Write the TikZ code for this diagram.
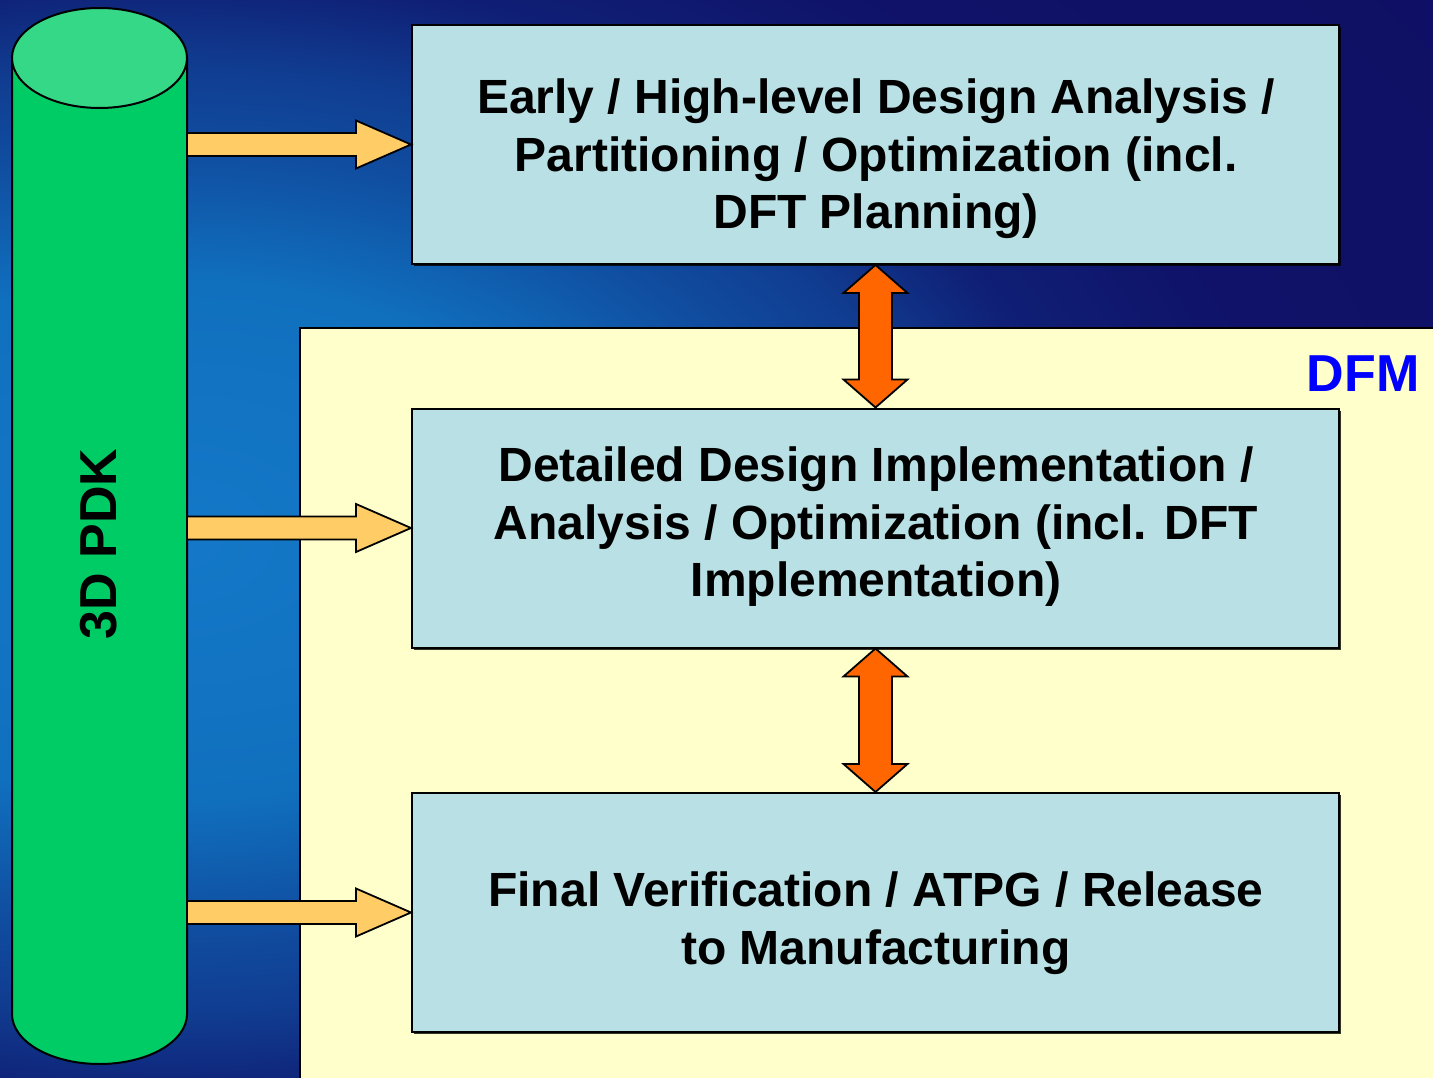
\documentclass[tikz,border=0pt]{standalone}
\usepackage{fontspec}
\setmainfont{Liberation Sans}
\usetikzlibrary{calc,shadows}
\definecolor{bgA}{HTML}{1478C8}
\definecolor{bgB}{HTML}{1070BE}
\definecolor{bgC}{HTML}{104DA0}
\definecolor{bgD}{HTML}{103C90}
\definecolor{bgE}{HTML}{0F1F75}
\definecolor{bgF}{HTML}{0F1268}
\definecolor{bgG}{HTML}{0E0E60}
\definecolor{cream}{HTML}{FFFFCC}
\definecolor{boxfill}{HTML}{B9E0E4}
\definecolor{pdkgreen}{HTML}{00CC66}
\definecolor{pdktop}{HTML}{34D886}
\definecolor{yarrowc}{HTML}{FFCC66}
\definecolor{oarrowc}{HTML}{FF6600}
\definecolor{dfmblue}{HTML}{0000FF}
\pgfdeclareradialshading{bgsh}{\pgfpoint{0bp}{0bp}}{color(0bp)=(bgA); color(5bp)=(bgB); color(7.5bp)=(bgC); color(9.15bp)=(bgD); color(10.85bp)=(bgE); color(13.35bp)=(bgF); color(25bp)=(bgG); color(50bp)=(bgG)}
\tikzset{
  stagebox/.style={draw=black, line width=2pt, fill=boxfill, minimum width=927pt, minimum height=239pt, inner sep=0pt,
    drop shadow={shadow xshift=2pt, shadow yshift=-2pt, fill=black, opacity=0.8}},
  stagetext/.style={align=center, font=\fontsize{48}{57.5}\selectfont\bfseries, inner sep=0pt},
  yarrow/.style={draw=black, line width=1.8pt, fill=yarrowc, line join=miter},
  oarrow/.style={draw=black, line width=1.8pt, fill=oarrowc, line join=miter},
}
\newcommand{\blockarrow}[2]{\path[yarrow] let \p1=(#1), \p2=(#2) in
  (\x1,\y1+11.5pt) -- (\x2-55pt,\y1+11.5pt) -- (\x2-55pt,\y1+24pt) -- (\x2,\y1) --
  (\x2-55pt,\y1-24pt) -- (\x2-55pt,\y1-11.5pt) -- (\x1,\y1-11.5pt) -- cycle;}
\newcommand{\dblarrow}[2]{\path[oarrow] let \p1=(#1), \p2=(#2) in
  (\x1,\y1) -- (\x1+32pt,\y1-28pt) -- (\x1+16.5pt,\y1-28pt) -- (\x1+16.5pt,\y2+28pt) --
  (\x1+32pt,\y2+28pt) -- (\x1,\y2) -- (\x1-32pt,\y2+28pt) -- (\x1-16.5pt,\y2+28pt) --
  (\x1-16.5pt,\y1-28pt) -- (\x1-32pt,\y1-28pt) -- cycle;}
\begin{document}
\begin{tikzpicture}[x=1pt,y=-1pt]
\useasboundingbox (0,0) rectangle (1433,1078);
% background
\begin{scope}
  \clip (0,0) rectangle (1433,1078);
  \fill[bgG] (0,0) rectangle (1433,1078);
  \shade[shading=bgsh] (170,540) ellipse[x radius=2100, y radius=1300];
\end{scope}
% DFM region
\draw[line width=2.5pt, fill=cream] (300,328) rectangle (1440,1085);
\node[anchor=base, font=\fontsize{52}{60}\selectfont\bfseries, text=dfmblue, inner sep=0pt] (dfm) at (1363,391) {DFM};
% cylinder
\fill[pdkgreen] (12,58) rectangle (187,1014);
\fill[pdkgreen] (99.5,1014) ellipse[x radius=87.5, y radius=50];
\draw[line width=2pt] (12,58) -- (12,1014) arc[start angle=180, end angle=0, x radius=87.5, y radius=50] -- (187,58);
\draw[line width=2pt, fill=pdktop] (99.5,58) ellipse[x radius=87.5, y radius=50];
\node[rotate=90, font=\fontsize{52}{60}\selectfont\bfseries, inner sep=0pt] (pdk) at (99,544) {3D PDK};
\coordinate (pdkE) at (187,536);
% stage boxes
\node[stagebox] (b1) at (875.5,144.5) {};
\node[stagebox] (b2) at (875.5,528) {};
\node[stagebox] (b3) at (875.5,912.5) {};
\node[stagetext] (t1) at (876,159) {Early / High-level Design Analysis /\\Partitioning / Optimization (incl.\\DFT Planning)};
\node[stagetext] (t2) at (876,527) {Detailed Design Implementation /\\Analysis / Optimization (incl. DFT\\Implementation)};
\node[stagetext] (t3) at (876,923) {Final Verification / ATPG / Release\\to Manufacturing};
% arrows
\blockarrow{pdkE |- b1.west}{b1.west}
\blockarrow{pdkE |- b2.west}{b2.west}
\blockarrow{pdkE |- b3.west}{b3.west}
\dblarrow{b1.south}{b2.north}
\dblarrow{b2.south}{b3.north}
\end{tikzpicture}
\end{document}
